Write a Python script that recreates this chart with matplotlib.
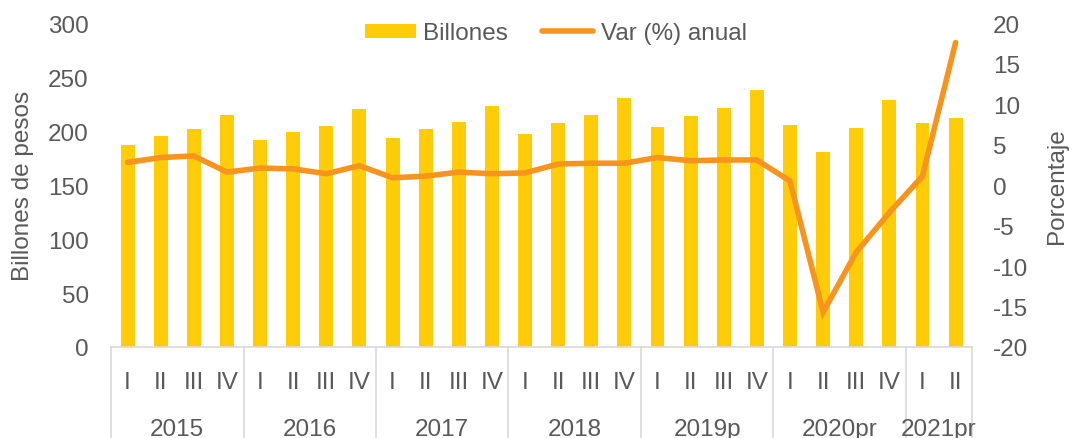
import matplotlib
import matplotlib.pyplot as plt
from matplotlib.lines import Line2D
from matplotlib.patches import Patch
import matplotlib.transforms as mtransforms

matplotlib.use("Agg")

plt.rcParams["font.family"] = ["Liberation Sans", "DejaVu Sans"]
plt.rcParams["axes.unicode_minus"] = False

TEXT = "#595959"
GRID = "#d9d9d9"
BAR = "#FFCC08"
LINE = "#F7941D"
FS = 17.5

# Datos trimestrales
years = ["2015", "2016", "2017", "2018", "2019p", "2020pr", "2021pr"]
quarters_per_year = [4, 4, 4, 4, 4, 4, 2]
quarter_labels = ["I", "II", "III", "IV"] * 6 + ["I", "II"]

billones = [
    187.5, 195.4, 201.8, 214.8,
    191.6, 199.0, 204.6, 220.4,
    193.8, 201.8, 208.3, 223.5,
    197.2, 207.7, 214.5, 230.2,
    204.0, 213.9, 221.3, 237.7,
    205.2, 180.2, 202.8, 229.0,
    207.7, 211.9,
]
var_anual = [
    2.8, 3.4, 3.6, 1.6,
    2.1, 2.0, 1.4, 2.4,
    0.9, 1.1, 1.6, 1.4,
    1.5, 2.6, 2.7, 2.7,
    3.4, 3.0, 3.1, 3.1,
    0.5, -15.7, -8.3, -3.4,
    1.1, 17.6,
]

x = list(range(len(billones)))

fig = plt.figure(figsize=(10.73, 4.39), dpi=100)
ax = fig.add_axes([0.1035, 0.2073, 0.8025, 0.7377])
ax2 = ax.twinx()

ax.bar(x, billones, width=0.42, color=BAR, zorder=2)
ax2.plot(x, var_anual, color=LINE, lw=4, solid_capstyle="round",
         solid_joinstyle="miter", zorder=3)

ax.set_xlim(-0.5, len(x) - 0.5)
ax.set_ylim(0, 300)
ax.set_yticks(range(0, 301, 50))
ax2.set_ylim(-20, 20)
ax2.set_yticks(range(-20, 21, 5))

for a in (ax, ax2):
    for s in a.spines.values():
        s.set_visible(False)
    a.tick_params(axis="y", length=0, labelsize=FS, labelcolor=TEXT)
ax.tick_params(axis="y", pad=16)
ax2.tick_params(axis="y", pad=15)
for lbl in ax2.get_yticklabels():
    lbl.set_horizontalalignment("left")

ax.spines["bottom"].set_visible(True)
ax.spines["bottom"].set_color(GRID)
ax.spines["bottom"].set_linewidth(1.2)

ax.set_xticks(x)
ax.set_xticklabels(quarter_labels)
ax.tick_params(axis="x", length=0, pad=17, labelsize=FS, labelcolor=TEXT)

ax.set_ylabel("Billones de pesos", fontsize=FS, color=TEXT, labelpad=10)
ax2.set_ylabel("Porcentaje", fontsize=FS, color=TEXT, rotation=90,
               labelpad=13)

# separadores y etiquetas de años
trans = mtransforms.blended_transform_factory(ax.transData, ax.transAxes)
start = 0
bounds = [-0.5]
for year, n in zip(years, quarters_per_year):
    center = start + (n - 1) / 2
    ax.text(center, -0.252, year, transform=trans, ha="center", va="center",
            fontsize=FS, color=TEXT, clip_on=False)
    start += n
    bounds.append(start - 0.5)
for b in bounds:
    ax.plot([b, b], [0, -0.3], transform=trans, color=GRID, lw=1.2,
            clip_on=False)

handles = [
    Patch(facecolor=BAR, edgecolor="none"),
    Line2D([0], [0], color=LINE, lw=4, solid_capstyle="round"),
]
fig.legend(handles, ["Billones", "Var (%) anual"], loc="center",
           bbox_to_anchor=(0.518, 0.922), ncol=2, frameon=False,
           fontsize=FS, labelcolor=TEXT, handlelength=2.1,
           handleheight=0.5, handletextpad=0.3, columnspacing=1.4)

fig.savefig("out.png", dpi=100)
